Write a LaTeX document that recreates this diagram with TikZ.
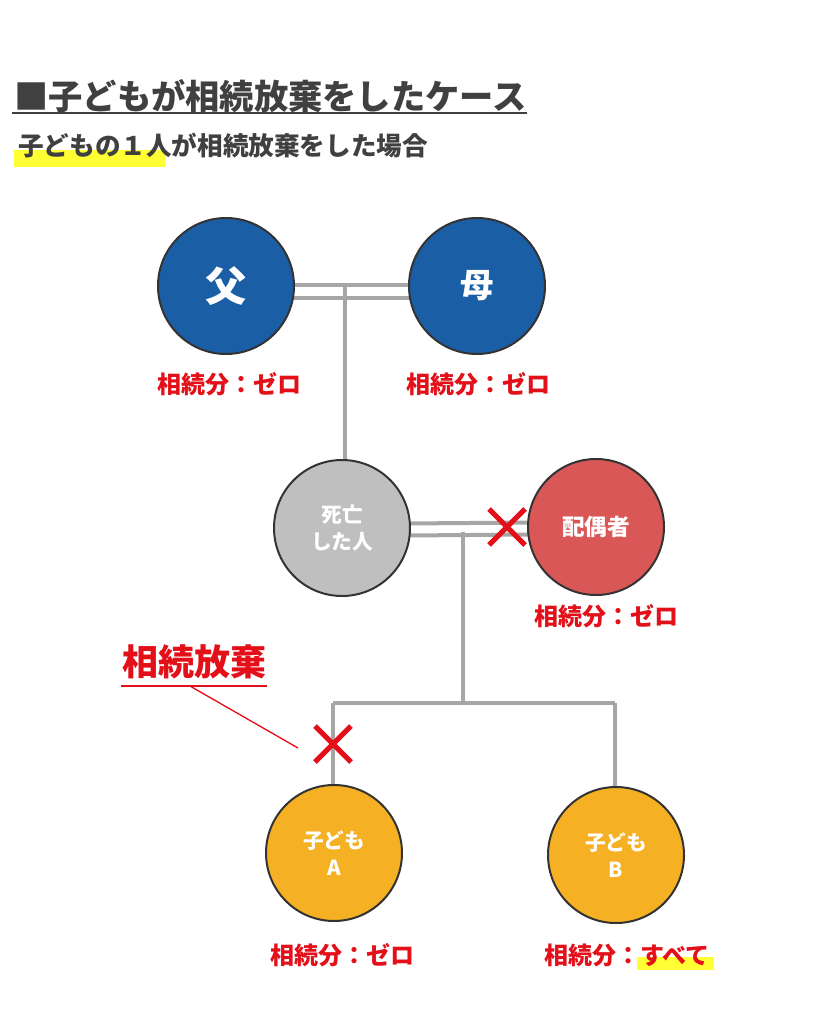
\documentclass[tikz,border=0pt]{standalone}
\usepackage{fontspec}
\setmainfont{Noto Sans CJK JP}
\usetikzlibrary{backgrounds}
\definecolor{ttl}{HTML}{404040}
\definecolor{lnk}{HTML}{A6A6A6}
\definecolor{blu}{HTML}{1A5EA6}
\definecolor{gry}{HTML}{BFBFBF}
\definecolor{spo}{HTML}{D95757}
\definecolor{org}{HTML}{F5B024}
\definecolor{rd}{HTML}{E3101A}
\definecolor{hl}{HTML}{FFFF33}
\tikzset{
  person/.style={circle,draw=black!80,line width=1.5pt,minimum size=102pt,inner sep=0pt,text=white,font=\bfseries\fontsize{15.5}{20}\selectfont,align=center},
  link/.style={draw=lnk,line width=3pt},
  share/.style={text=rd,font=\bfseries\fontsize{18}{21}\selectfont},
  cross/.style={draw=rd,line width=3.8pt},
}
\begin{document}
\begin{tikzpicture}[x=0.75pt,y=-0.75pt]
\useasboundingbox (0,0) rectangle (820,1024);
% title
\node[anchor=west,text=ttl,font=\bfseries\fontsize{25.7}{30}\selectfont,inner sep=0pt] (title) at (14,96) {■子どもが相続放棄をしたケース};
\coordinate (tl) at (12,113);
\coordinate (tr) at (527,113);
\draw[ttl,line width=1.6pt] (tl) -- (tr);
% subtitle
\fill[hl] (14,150) rectangle (165,167);
\node[anchor=west,text=ttl,font=\bfseries\fontsize{19.2}{22}\selectfont,inner sep=0pt] (sub) at (18,146) {子どもの１人が相続放棄をした場合};
% persons
\node[person,fill=blu,font=\bfseries\fontsize{31}{34}\selectfont] (father) at (226,286) {父};
\node[person,fill=blu,font=\bfseries\fontsize{25}{30}\selectfont] (mother) at (477,286) {母};
\node[person,fill=gry] (dead) at (342,528) {死亡\\した人};
\node[person,fill=spo,font=\bfseries\fontsize{17}{20}\selectfont] (spouse) at (596,527) {配偶者};
\node[person,fill=org] (childA) at (334,853) {子ども\\A};
\node[person,fill=org] (childB) at (616,855) {子ども\\B};
% labels
\node[share] (lf) at (229,384) {相続分：ゼロ};
\node[share] (lm) at (478,384) {相続分：ゼロ};
\node[share] (ls) at (606,616) {相続分：ゼロ};
\node[share] (la) at (342,955) {相続分：ゼロ};
\fill[hl] (637,957) rectangle (714,970);
\node[share] (lb) at (627,955) {相続分：すべて};
% links
\coordinate (fm) at (345,287);
\coordinate (dsp) at (463,532);
\coordinate (bar) at (463,703);
\coordinate (barA) at (333,703);
\coordinate (barB) at (615,703);
\begin{scope}[on background layer]
  \fill[white] (0,0) rectangle (820,1024);
  \draw[link] ([yshift=-12*0.75pt]father.center) -- ([yshift=-12*0.75pt]mother.center);
  \draw[link] ([yshift=1*0.75pt]father.center) -- ([yshift=1*0.75pt]mother.center);
  \draw[link] (fm) -- (fm |- dead.center);
  \draw[link] ([yshift=-8*0.75pt]dead.center) -- ([yshift=-7*0.75pt]spouse.center);
  \draw[link] ([yshift=4*0.75pt]dead.center) -- ([yshift=5*0.75pt]spouse.center);
  \draw[link] (dsp) -- (bar);
  \draw[link] (barA) -- (barB);
  \draw[link] (barA) -- (barA |- childA.center);
  \draw[link] (barB) -- (barB |- childB.center);
\end{scope}
% crosses
\coordinate (x1) at (507,527);
\coordinate (x2) at (333,744);
\draw[cross] ([shift={(-18,-18)}]x1) -- ([shift={(18,18)}]x1);
\draw[cross] ([shift={(-18,18)}]x1) -- ([shift={(18,-18)}]x1);
\draw[cross] ([shift={(-18,-18)}]x2) -- ([shift={(18,18)}]x2);
\draw[cross] ([shift={(-18,18)}]x2) -- ([shift={(18,-18)}]x2);
% renunciation note
\node[text=rd,font=\bfseries\fontsize{27}{30}\selectfont,inner sep=0pt] (renounce) at (194,662) {相続放棄};
\coordinate (ul) at (121,686);
\coordinate (ur) at (267,686);
\coordinate (lead) at (190,686);
\coordinate (leadend) at (298,748);
\draw[rd,line width=1.4pt] (ul) -- (ur);
\draw[rd,line width=1pt] (lead) -- (leadend);
\end{tikzpicture}
\end{document}
